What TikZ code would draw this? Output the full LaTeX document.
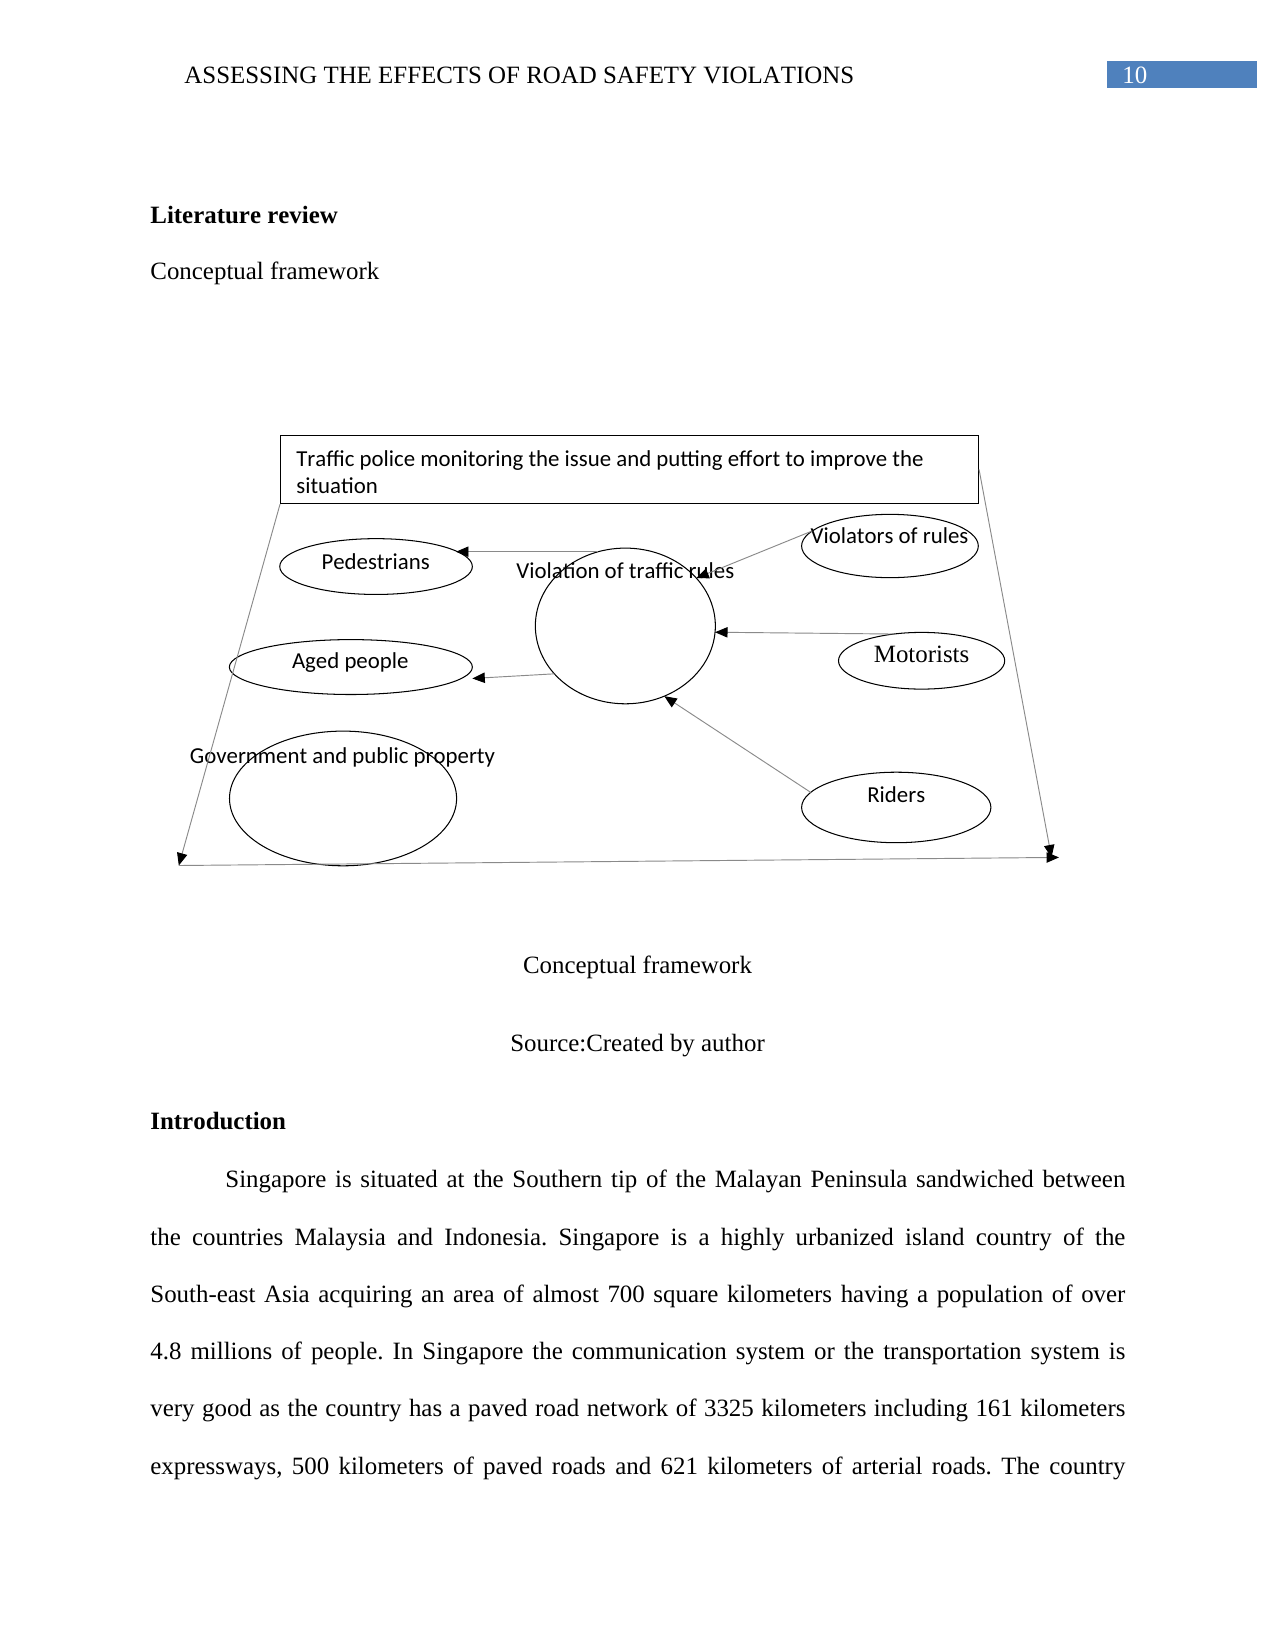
\documentclass[tikz,border=0pt]{standalone}
\usepackage{fontspec}
\setmainfont{Liberation Serif}[Kerning=Off]
\newfontfamily\calibrifont{Carlito}[Kerning=Off]
\usetikzlibrary{shapes.geometric,arrows.meta}
\definecolor{headerblue}{HTML}{4F81BD}
\definecolor{linegrey}{HTML}{8A8A8A}

\begin{document}
\begin{tikzpicture}[x=1in,y=-1in,
  bubble/.style={draw=black,line width=0.5pt,ellipse,inner sep=0pt,outer sep=0pt},
  label11/.style={font=\calibrifont\fontsize{11}{13.4}\selectfont,inner sep=0pt,anchor=base},
  pagetext/.style={font=\fontsize{12}{13.8}\selectfont,inner sep=0pt},
  link/.style={draw=linegrey,line width=0.45pt,-{Triangle[length=6pt,width=5pt,color=black]}}]
\useasboundingbox[fill=white] (0,0) rectangle (8.5,11);
% running head
\node[pagetext,anchor=base west] (runhead) at (1.227,0.555) {ASSESSING THE EFFECTS OF ROAD SAFETY VIOLATIONS};
\node[fill=headerblue,minimum width=0.994in,minimum height=0.18in,anchor=north west,inner sep=0pt] (pagebox) at (7.38,0.407) {};
\node[pagetext,anchor=base west,text=white] (pagenum) at (7.48,0.555) {10};
% headings
\node[pagetext,anchor=base west,font=\fontsize{12}{13.8}\selectfont\bfseries] (litrev) at (1.0,1.487) {Literature review};
\node[pagetext,anchor=base west] (concept) at (1.0,1.865) {Conceptual framework};
% framework
\node[draw=black,line width=0.5pt,anchor=north west,minimum width=4.653in,minimum height=0.457in,inner sep=0pt] (police) at (1.867,2.897) {};
\node[label11,anchor=base west] (police-t1) at (1.973,3.107) {Traffic police monitoring the issue and putting effort to improve the};
\node[label11,anchor=base west] (police-t2) at (1.973,3.289) {situation};
\node[bubble,minimum width=1.284in,minimum height=0.372in] (ped) at (2.507,3.777) {};
\node[bubble,minimum width=1.178in,minimum height=0.422in] (vor) at (5.933,3.64) {};
\node[bubble,minimum width=1.2in,minimum height=1.038in] (viol) at (4.169,4.173) {};
\node[bubble,minimum width=1.62in,minimum height=0.366in] (aged) at (2.339,4.447) {};
\node[bubble,minimum width=1.108in,minimum height=0.378in] (mot) at (6.144,4.405) {};
\node[bubble,minimum width=1.514in,minimum height=0.898in] (govt) at (2.287,5.323) {};
\node[bubble,minimum width=1.262in,minimum height=0.47in] (riders) at (5.975,5.383) {};
\node[label11] (ped-t) at (2.504,3.794) {Pedestrians};
\node[label11] (vor-t) at (5.93,3.624) {Violators of rules};
\node[label11] (viol-t) at (4.169,3.854) {Violation of traffic rules};
\node[label11] (aged-t) at (2.335,4.454) {Aged people};
\node[pagetext,anchor=base] (mot-t) at (6.144,4.414) {Motorists};
\node[label11] (govt-t) at (2.283,5.087) {Government and public property};
\node[label11] (riders-t) at (5.975,5.347) {Riders};
\coordinate (leftend) at (1.192,5.77);
\coordinate (rightend) at (7.06,5.716);
\coordinate (downend) at (7.01,5.716);
\draw[link] (police.south west) -- (leftend);
\draw[link] (leftend) -- (rightend);
\draw[link] (police.east) -- (downend);
\draw[link] (viol.110) -- (viol.110 -| ped.11);
\draw[link] (viol.214) -- ([yshift=-5.5pt]aged.east);
\draw[link] (vor.169) -- (viol.34);
\draw[link] (mot.136) -- (viol.356);
\draw[link] (riders.170) -- (viol.299);
% caption
\node[pagetext,anchor=base] (caption) at (4.25,6.487) {Conceptual framework};
\node[pagetext,anchor=base] (source) at (4.25,7.007) {Source:Created by author};
% introduction
\node[pagetext,anchor=base west,font=\fontsize{12}{13.8}\selectfont\bfseries] (intro-h) at (1.0,7.527) {Introduction};
\node[pagetext,anchor=base west,text width=6.5in,align=justify,font=\fontsize{12}{27.6}\selectfont] (intro) at (1.0,7.918) {\frenchspacing\hyphenpenalty=10000 \exhyphenpenalty=10000 \tolerance=10000 \parfillskip=0pt
\hspace*{0.5in}Singapore is situated at the Southern tip of the Malayan Peninsula sandwiched between\linebreak the countries Malaysia and Indonesia. Singapore is a highly urbanized island country of the\linebreak South-east Asia acquiring an area of almost 700 square kilometers having a population of over\linebreak 4.8 millions of people. In Singapore the communication system or the transportation system is\linebreak very good as the country has a paved road network of 3325 kilometers including 161 kilometers\linebreak expressways, 500 kilometers of paved roads and 621 kilometers of arterial roads. The country\par};
\end{tikzpicture}
\end{document}
